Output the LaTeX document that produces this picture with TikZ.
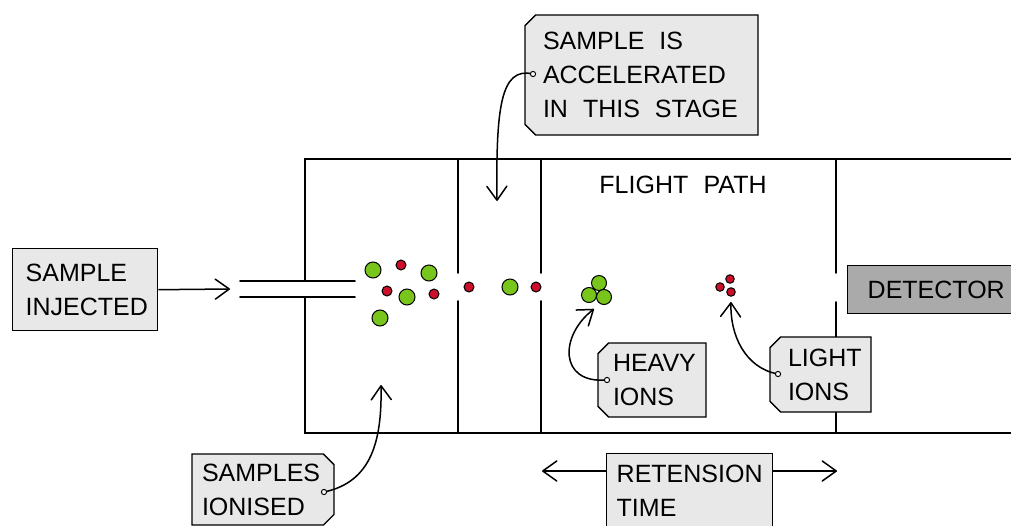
\documentclass[tikz,border=0pt]{standalone}
\usepackage{fontspec}
\setmainfont[WordSpace=2.2]{Liberation Sans}
\usetikzlibrary{arrows.meta,shapes.misc}
\definecolor{tagfill}{HTML}{E8E8E8}
\definecolor{detfill}{HTML}{AAAAAA}
\definecolor{iongreen}{HTML}{78C51C}
\definecolor{ionred}{HTML}{CC0F2A}
\begin{document}
\begin{tikzpicture}[x=1pt,y=-1pt,line width=1.5pt,
  wall/.style={line width=1.6pt,line cap=round},
  txt/.style={font=\fontsize{25}{34}\selectfont,inner sep=0pt},
  lbl/.style={font=\fontsize{25}{34}\selectfont,align=left,anchor=north west,
    execute at begin node={\spaceskip=.6em\relax},
    inner ysep=0pt,draw=black,line width=1.4pt,fill=tagfill},
  tagL/.style={lbl,anchor=center,chamfered rectangle,chamfered rectangle corners={north west,south west},
    chamfered rectangle xsep=7pt},
  tagR/.style={lbl,anchor=center,chamfered rectangle,chamfered rectangle corners={north east,south east},
    chamfered rectangle xsep=7pt},
  arr/.style={line width=1.5pt,-{Straight Barb[length=14pt,width=20pt,round]}},
  hole/.style={draw=black,line width=1pt,fill=white},
  gion/.style={circle,draw=black,line width=1pt,fill=iongreen,inner sep=0pt,minimum size=16pt},
  rion/.style={circle,draw=black,line width=1pt,fill=ionred,inner sep=0pt,minimum size=10pt},
  hion/.style={gion,minimum size=15pt},
  lion/.style={rion,minimum size=8.5pt}]
\useasboundingbox (0,0) rectangle (1011,525);
\clip (0,0) rectangle (1011,525);
\fill[white] (0,0) rectangle (1011,525);
% instrument body
\draw[wall] (1020,159) -- (305,159) -- (305,281);
\draw[wall] (305,297) -- (305,433) -- (1020,433);
\draw[wall] (240,281) -- (355,281);
\draw[wall] (240,297) -- (355,297);
\draw[wall] (458,159) -- (458,273);
\draw[wall] (458,301) -- (458,433);
\draw[wall] (541,159) -- (541,273);
\draw[wall] (541,301) -- (541,433);
\draw[wall] (836,159) -- (836,273);
\draw[wall] (836,302) -- (836,433);
\node[txt] (fp) at (683,185) {FLIGHT PATH};
% ions
\node[gion] (g1) at (373,270) {};
\node[rion] (r1) at (401,265) {};
\node[gion] (g2) at (429,273) {};
\node[rion] (r2) at (387,291) {};
\node[gion] (g3) at (407,297) {};
\node[rion] (r3) at (434,294) {};
\node[gion] (g4) at (380,318) {};
\node[rion] (r4) at (469,287) {};
\node[gion] (g5) at (510,287) {};
\node[rion] (r5) at (536,287) {};
\node[hion] (h1) at (599,283) {};
\node[hion] (h2) at (589,295) {};
\node[hion] (h3) at (604,297) {};
\node[lion] (l1) at (730,279) {};
\node[lion] (l2) at (720,287) {};
\node[lion] (l3) at (731,292) {};
% labels
\node[lbl,inner xsep=13pt,text width=119pt,minimum height=82pt] (inj) at (12,248) {SAMPLE\\INJECTED};
\node[tagL,inner xsep=11pt,text width=197pt,minimum height=120pt] (acc) at (641.5,75) {SAMPLE IS\\ACCELERATED\\IN THIS STAGE};
\node[tagL,inner xsep=8pt,text width=78pt,minimum height=74pt] (heavy) at (652,380) {HEAVY\\IONS};
\node[tagL,inner xsep=11pt,text width=65pt,minimum height=75pt] (light) at (820.5,374.5) {LIGHT\\IONS};
\node[tagR,inner xsep=3pt,text width=122pt,minimum height=71pt] (ionised) at (263,489.5) {SAMPLES\\IONISED};
\node[lbl,inner xsep=10pt,text width=146pt,minimum height=74pt] (ret) at (606,453) {RETENSION\\TIME};
\node[lbl,fill=detfill,inner xsep=20pt,text width=140pt,minimum height=48pt] (det) at (847,265) {DETECTOR};
% connectors
\coordinate (inlet) at (230,289);
\draw[arr] (inj.east) -- (inlet);
\coordinate (acchole) at (533,74);
\coordinate (acctip) at (497,201);
\draw[arr] (acchole) .. controls (500,66) and (496,110) .. (acctip);
\coordinate (heavyhole) at (607,380);
\coordinate (heavytip) at (594,309);
\draw[arr] (heavyhole) .. controls (558,384) and (560,335) .. (heavytip);
\coordinate (lighthole) at (778,374);
\coordinate (lighttip) at (731,302);
\draw[arr] (lighthole) .. controls (745,368) and (730,335) .. (lighttip);
\coordinate (ionhole) at (324,492);
\coordinate (iontip) at (381,385);
\draw[arr] (ionhole) .. controls (372,482) and (382,440) .. (iontip);
\coordinate (retL) at (542,471);
\coordinate (retR) at (837,471);
\draw[arr] (ret.west |- retL) -- (retL);
\draw[arr] (ret.east |- retR) -- (retR);
\foreach \h in {acchole,heavyhole,lighthole,ionhole}
  \draw[hole] (\h) circle (2.6pt);
\end{tikzpicture}
\end{document}
